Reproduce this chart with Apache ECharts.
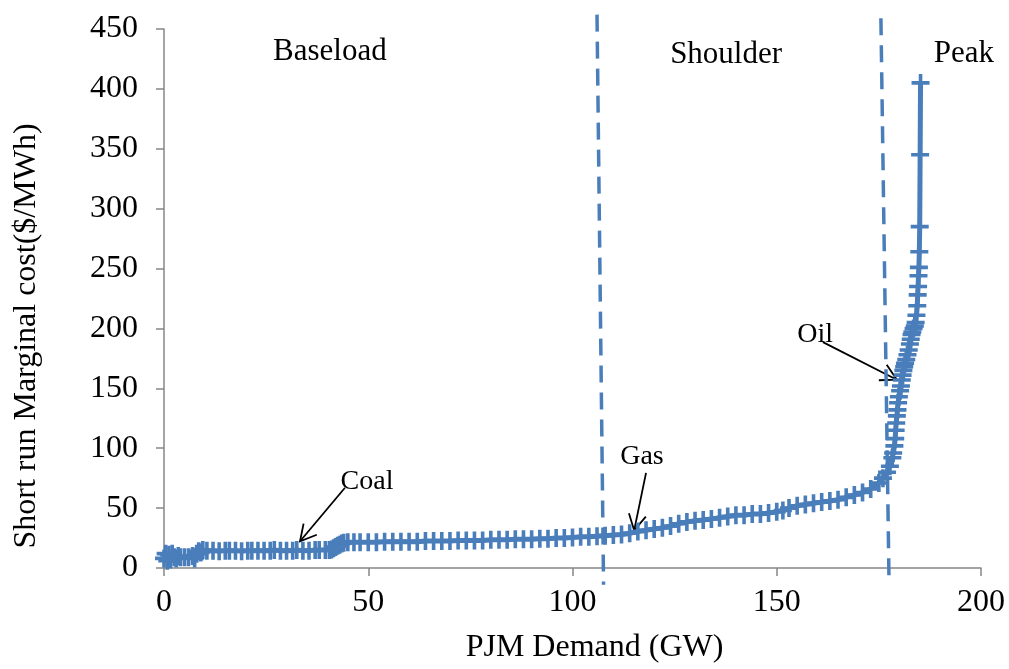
<!DOCTYPE html>
<html><head><meta charset="utf-8">
<script src="https://cdn.jsdelivr.net/npm/echarts@6/dist/echarts.min.js"></script>
<style>html,body{margin:0;padding:0;background:#fff}#c{width:1009px;height:669px}</style>
</head><body><div id="c"></div>
<script>
// PJM demand (GW) and short-run marginal cost ($/MWh)
const demandGW = [
  0,0.4,0.8,1.2,1.6,2,2.5,3,3.5,4,5,6,7,7.5,8,8.5,9,9.5,
  10.5,12,13.5,15,16,17.5,19,20.5,21.5,23,24.5,26,27,28.5,30,31.5,32.5,34,35.5,37,38,39.5,40.5,
  41,41.5,42,42.5,43,43.5,44,45,
  46.5,48,50,52,54,56,58,60,62,64,66,68,70,72,74,76,78,80,82,84,86,88,90,92,94,96,98,100,
  102,104,106,108,110,112,114,116,118,120,122,124,126,128,130,132,134,136,138,140,142,144,146,148,150,
  151.5,153,155,157,159,161,163,165,167,169,171,173,175,
  176,177,177.7,178.3,178.5,178.8,179,179.1,179.25,179.4,179.55,179.7,179.9,180.2,180.4,180.6,180.8,181,
  181.2,181.4,181.7,182,182.3,182.6,182.8,183,183.2,183.5,183.8,184,
  184.2,184.4,184.5,184.6,184.7,184.8,184.9,185,185.1,185.2
];
const marginalCost = [
  8,12,6,11,7,12,9,8,10,9,9,9,10,8,12,14,13,15,
  14.5,14.5,14,14.5,14.5,14.5,14,14.5,14.5,14.5,14.5,14.5,15,14.5,14.5,14.5,15,14.5,14.5,15,15,15,15,
  15.5,16.5,17.5,18.5,19.5,20.5,21,21.5,
  21.5,21.5,21.5,21.5,22,22,22,22,22,22.5,22.5,22.5,22.5,23,23,23,23,23.5,23.5,23.5,24,24,24,24.5,24.5,25,25,25.5,
  26,26,26.5,27,27.5,28,29,30.5,31.5,32.5,33.5,35,37,38.5,39.5,40,41,42,43,44,44,45,45,46,47,
  48,50,52,53,54,55,56,57,59,61,63,66,71,
  75,80,85,92,96,102,108,115,121,127,132,138,143,148,152,157,161,165,
  168,171,174,178,182,187,191,195,197,200,202,205,
  211,219,228,235,244,251,264,285,345,405
];
const xTickLabels = ['0','50','100','150','200'];
const yTickLabels = ['0','50','100','150','200','250','300','350','400','450'];
const xTitle = 'PJM Demand (GW)';
const yTitle = 'Short run Marginal cost($/MWh)';
// dashed dividers between load regions: [x, y] at top and bottom
const divider1 = [[106, 462], [107.6, -14]];
const divider2 = [[175.5, 459], [177.5, -14]];
const regionNames = ['Baseload', 'Shoulder', 'Peak'];
const regionAt = [[40.6, 430.5], [137.6, 428.5], [195.8, 429.5]];
const fuelNames = ['Coal', 'Gas', 'Oil'];
const fuelLabelAt = [[49.7, 72.5], [117, 93], [159.4, 195]];
const fuelArrowFrom = [[44.3, 67], [118, 79.4], [161.3, 188.6]];
const fuelArrowTo = [[33.3, 22.3], [115.1, 31.4], [179.4, 157.2]];

const BLUE = '#4a7ebb';
const FONT = '"Liberation Serif", "Times New Roman", serif';
const plus = 'path://M-1.6,-8H1.6V-1.6H8V1.6H1.6V8H-1.6V1.6H-8V-1.6H-1.6Z';

const chart = echarts.init(document.getElementById('c'), null, {renderer: 'canvas'});
const xMin = Number(xTickLabels[0]), xMax = Number(xTickLabels[xTickLabels.length-1]);
const yMin = Number(yTickLabels[0]), yMax = Number(yTickLabels[yTickLabels.length-1]);

chart.setOption({
  animation: false,
  backgroundColor: '#fff',
  grid: {left: 164, right: 28, top: 29, bottom: 96, containLabel: false},
  xAxis: {
    type: 'value', min: xMin, max: xMax, interval: 50,
    name: xTitle, nameLocation: 'middle', nameGap: 64,
    nameTextStyle: {fontFamily: FONT, fontSize: 32, color: '#000', padding: [0, 0, 0, 44]},
    axisLine: {onZero: false, lineStyle: {color: '#868686', width: 1.5}},
    axisTick: {show: true, inside: false, length: 8, lineStyle: {color: '#868686', width: 1.5}},
    axisLabel: {fontFamily: FONT, fontSize: 32, color: '#000', margin: 19},
    splitLine: {show: false}
  },
  yAxis: {
    type: 'value', min: yMin, max: yMax, interval: 50,
    axisLine: {show: true, lineStyle: {color: '#868686', width: 1.5}},
    axisTick: {show: true, inside: false, length: 8, lineStyle: {color: '#868686', width: 1.5}},
    axisLabel: {fontFamily: FONT, fontSize: 32, color: '#000', margin: 26},
    splitLine: {show: false}
  },
  series: [
    {
      type: 'line', clip: false, silent: true,
      data: divider1, symbol: 'none',
      lineStyle: {color: BLUE, width: 3.5, type: [17, 10]}
    },
    {
      type: 'line', clip: false, silent: true,
      data: divider2, symbol: 'none',
      lineStyle: {color: BLUE, width: 3.5, type: [17, 10]}
    },
    {
      type: 'line', clip: false,
      data: demandGW.map((x, i) => [x, marginalCost[i]]),
      symbol: plus, symbolSize: 18, showSymbol: true, showAllSymbol: true,
      itemStyle: {color: BLUE},
      lineStyle: {color: BLUE, width: 5}
    }
  ]
});

function px(p) { return chart.convertToPixel({gridIndex: 0}, p); }
const graphics = [];
graphics.push({
  type: 'text', x: 27, y: 336, rotation: Math.PI / 2,
  style: {text: yTitle, font: '32px ' + FONT, fill: '#000', align: 'center', verticalAlign: 'middle'}
});
regionNames.forEach((t, i) => {
  const p = px(regionAt[i]);
  graphics.push({type: 'text', x: p[0], y: p[1],
    style: {text: t, font: '31px ' + FONT, fill: '#000', align: 'center', verticalAlign: 'middle'}});
});
fuelNames.forEach((t, i) => {
  const p = px(fuelLabelAt[i]);
  graphics.push({type: 'text', x: p[0], y: p[1],
    style: {text: t, font: '28px ' + FONT, fill: '#000', align: 'center', verticalAlign: 'middle'}});
  const a = px(fuelArrowFrom[i]), b = px(fuelArrowTo[i]);
  graphics.push({type: 'line', shape: {x1: a[0], y1: a[1], x2: b[0], y2: b[1]},
    style: {stroke: '#000', lineWidth: 1.8}});
  const ang = Math.atan2(a[1] - b[1], a[0] - b[0]);
  const L = 18, spread = 0.5;
  const h1 = [b[0] + L * Math.cos(ang + spread), b[1] + L * Math.sin(ang + spread)];
  const h2 = [b[0] + L * Math.cos(ang - spread), b[1] + L * Math.sin(ang - spread)];
  graphics.push({type: 'polyline', shape: {points: [h1, b, h2]},
    style: {stroke: '#000', lineWidth: 1.8, fill: null}});
});
chart.setOption({graphic: graphics});
</script>
</body></html>
